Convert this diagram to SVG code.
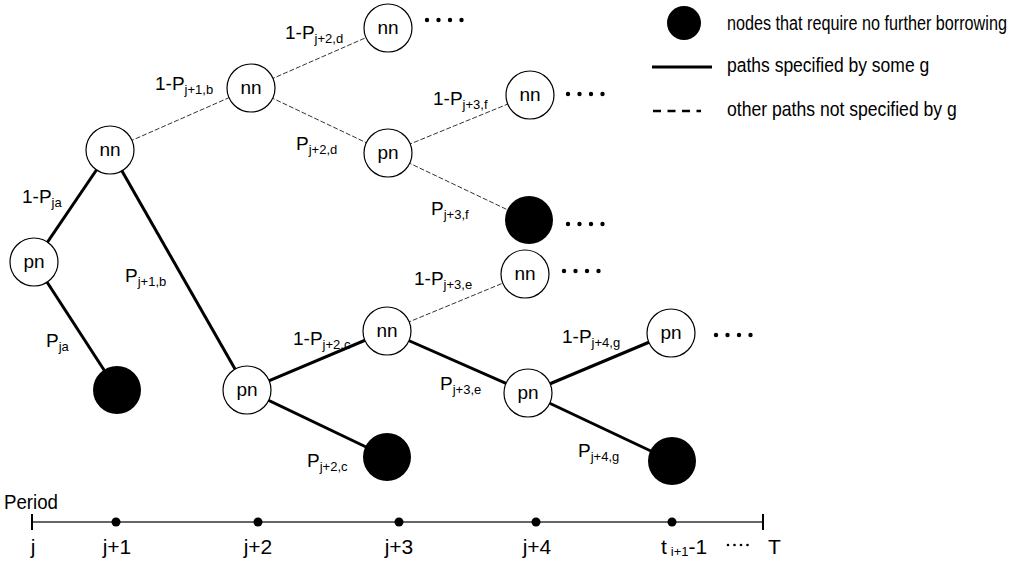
<svg xmlns="http://www.w3.org/2000/svg" width="1016" height="563" viewBox="0 0 1016 563">
<style>
text{font-family:"Liberation Sans",Arial,sans-serif;fill:#000}
.lbl{font-size:19px}
.sub{font-size:13px}
.nt{font-size:19px;text-anchor:middle}
.open{fill:#fff;stroke:#000;stroke-width:1.2}
.full{fill:#000}
.solid{stroke:#000;stroke-width:3;fill:none}
.dash{stroke:#333;stroke-width:1;stroke-dasharray:5 2;fill:none}
.tl{font-size:21px;text-anchor:middle}
.leg{font-size:20px}
</style>
<rect width="1016" height="563" fill="#fff"/>
<g id="connectors">
<line class="solid" x1="34" y1="262" x2="110" y2="150"/>
<line class="solid" x1="34" y1="262" x2="117" y2="390"/>
<line class="solid" x1="110" y1="150" x2="247" y2="390"/>
<line class="solid" x1="247" y1="390" x2="387" y2="331"/>
<line class="solid" x1="247" y1="390" x2="387" y2="457"/>
<line class="solid" x1="387" y1="331" x2="528" y2="393"/>
<line class="solid" x1="528" y1="393" x2="671" y2="333"/>
<line class="solid" x1="528" y1="393" x2="672" y2="461"/>
<line class="dash" x1="110" y1="150" x2="251" y2="88"/>
<line class="dash" x1="251" y1="88" x2="388" y2="28"/>
<line class="dash" x1="251" y1="88" x2="388" y2="153"/>
<line class="dash" x1="388" y1="153" x2="530" y2="95"/>
<line class="dash" x1="388" y1="153" x2="529" y2="220"/>
<line class="dash" x1="387" y1="331" x2="525" y2="274"/>
</g>
<g id="node-pn0"><circle class="open" cx="34" cy="262" r="24"/><text class="nt" x="34" y="268">pn</text></g>
<g id="node-nn1"><circle class="open" cx="110" cy="150" r="24"/><text class="nt" x="110" y="156">nn</text></g>
<g id="node-f1"><circle class="full" cx="117" cy="390" r="24"/></g>
<g id="node-pn1"><circle class="open" cx="247" cy="390" r="24"/><text class="nt" x="247" y="396">pn</text></g>
<g id="node-nn2"><circle class="open" cx="251" cy="88" r="24"/><text class="nt" x="251" y="94">nn</text></g>
<g id="node-nn3"><circle class="open" cx="388" cy="28" r="24"/><text class="nt" x="388" y="34">nn</text></g>
<g id="node-pn2"><circle class="open" cx="388" cy="153" r="24"/><text class="nt" x="388" y="159">pn</text></g>
<g id="node-nn5"><circle class="open" cx="530" cy="95" r="24"/><text class="nt" x="530" y="101">nn</text></g>
<g id="node-f3"><circle class="full" cx="529" cy="220" r="24"/></g>
<g id="node-nn6"><circle class="open" cx="525" cy="274" r="24"/><text class="nt" x="525" y="280">nn</text></g>
<g id="node-nn4"><circle class="open" cx="387" cy="331" r="24"/><text class="nt" x="387" y="337">nn</text></g>
<g id="node-f2"><circle class="full" cx="387" cy="457" r="24"/></g>
<g id="node-pn4"><circle class="open" cx="528" cy="393" r="24"/><text class="nt" x="528" y="399">pn</text></g>
<g id="node-pn5"><circle class="open" cx="671" cy="333" r="24"/><text class="nt" x="671" y="339">pn</text></g>
<g id="node-f4"><circle class="full" cx="672" cy="461" r="24"/></g>
<g id="ellipses" fill="#000">
<circle cx="427" cy="20" r="2.2"/><circle cx="438.5" cy="20" r="2.2"/><circle cx="450" cy="20" r="2.2"/><circle cx="461.5" cy="20" r="2.2"/>
<circle cx="568" cy="94" r="2.2"/><circle cx="579.5" cy="94" r="2.2"/><circle cx="591" cy="94" r="2.2"/><circle cx="602.5" cy="94" r="2.2"/>
<circle cx="568" cy="224" r="2.2"/><circle cx="579.5" cy="224" r="2.2"/><circle cx="591" cy="224" r="2.2"/><circle cx="602.5" cy="224" r="2.2"/>
<circle cx="564" cy="271" r="2.2"/><circle cx="575.5" cy="271" r="2.2"/><circle cx="587" cy="271" r="2.2"/><circle cx="598.5" cy="271" r="2.2"/>
<circle cx="716" cy="335" r="2.2"/><circle cx="727.5" cy="335" r="2.2"/><circle cx="739" cy="335" r="2.2"/><circle cx="750.5" cy="335" r="2.2"/>
</g>
<g id="labels">
<text class="lbl" x="285" y="39">1-P<tspan class="sub" dy="4">j+2,d</tspan></text>
<text class="lbl" x="155" y="90">1-P<tspan class="sub" dy="4">j+1,b</tspan></text>
<text class="lbl" x="296" y="150">P<tspan class="sub" dy="4">j+2,d</tspan></text>
<text class="lbl" x="433" y="105">1-P<tspan class="sub" dy="4">j+3,f</tspan></text>
<text class="lbl" x="431" y="215">P<tspan class="sub" dy="4">j+3,f</tspan></text>
<text class="lbl" x="22" y="203">1-P<tspan class="sub" dy="4">ja</tspan></text>
<text class="lbl" x="125" y="282">P<tspan class="sub" dy="4">j+1,b</tspan></text>
<text class="lbl" x="46" y="347">P<tspan class="sub" dy="4">ja</tspan></text>
<text class="lbl" x="293" y="345">1-P<tspan class="sub" dy="4">j+2,c</tspan></text>
<text class="lbl" x="414" y="285">1-P<tspan class="sub" dy="4">j+3,e</tspan></text>
<text class="lbl" x="440" y="390">P<tspan class="sub" dy="4">j+3,e</tspan></text>
<text class="lbl" x="562" y="343">1-P<tspan class="sub" dy="4">j+4,g</tspan></text>
<text class="lbl" x="307" y="467">P<tspan class="sub" dy="4">j+2,c</tspan></text>
<text class="lbl" x="578" y="457">P<tspan class="sub" dy="4">j+4,g</tspan></text>
</g>
<g id="legend">
<circle class="full" cx="684" cy="23" r="17"/>
<line x1="652" y1="67" x2="712" y2="67" stroke="#000" stroke-width="3"/>
<line x1="653" y1="111" x2="701" y2="111" stroke="#000" stroke-width="2.5" stroke-dasharray="8 6.5"/>
<text class="leg" transform="translate(727,30) scale(0.81,1)">nodes that require no further borrowing</text>
<text class="leg" transform="translate(727,72) scale(0.875,1)">paths specified by some g</text>
<text class="leg" transform="translate(727,116) scale(0.88,1)">other paths not specified by g</text>
</g>
<g id="timeline">
<text x="4" y="509" font-size="21" textLength="54" lengthAdjust="spacingAndGlyphs">Period</text>
<line x1="32" y1="522" x2="763" y2="522" stroke="#333" stroke-width="1.3"/>
<line x1="32" y1="514" x2="32" y2="530" stroke="#000" stroke-width="2"/>
<line x1="763" y1="514" x2="763" y2="530" stroke="#000" stroke-width="2"/>
<circle cx="116" cy="522" r="4.5"/>
<circle cx="258" cy="522" r="4.5"/>
<circle cx="399" cy="522" r="4.5"/>
<circle cx="536" cy="522" r="4.5"/>
<circle cx="672" cy="522" r="4.5"/>
<text class="tl" x="33" y="554">j</text>
<text class="tl" x="117" y="554">j+1</text>
<text class="tl" x="258" y="554">j+2</text>
<text class="tl" x="399" y="554">j+3</text>
<text class="tl" x="537" y="554">j+4</text>
<text x="661" y="554" font-size="21">t<tspan font-size="13" dx="4" dy="2">i+1</tspan><tspan dy="-2">-1</tspan></text>
<g fill="#000"><circle cx="728" cy="545" r="1.3"/><circle cx="734.5" cy="545" r="1.3"/><circle cx="741" cy="545" r="1.3"/><circle cx="747.5" cy="545" r="1.3"/></g>
<text x="768" y="554" font-size="21">T</text>
</g>
</svg>
